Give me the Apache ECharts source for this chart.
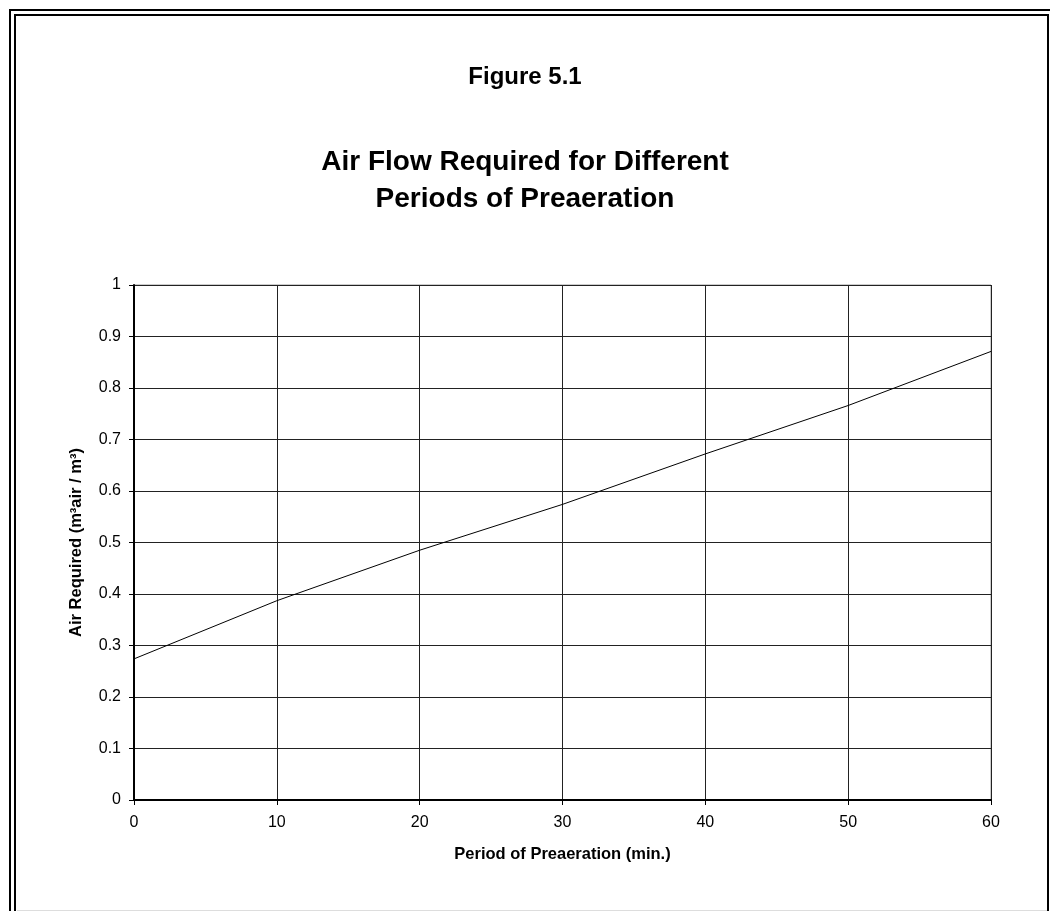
<!DOCTYPE html>
<html>
<head>
<meta charset="utf-8">
<script src="https://cdn.jsdelivr.net/npm/echarts@6/dist/echarts.min.js"></script>
<style>
  html, body { margin: 0; padding: 0; background: #fff; }
  #wrap { position: relative; width: 1050px; height: 911px; overflow: hidden; }
  #outer { position: absolute; left: 9px; top: 9px; width: 1100px; height: 1000px; border: 2px solid #000; }
  #inner { position: absolute; left: 14px; top: 14px; width: 1031px; height: 1000px; border: 2px solid #000; }
  #bottomline { position: absolute; left: 17px; top: 910px; width: 1030px; height: 1px; background: #ddd; }
  #chart { position: absolute; left: 0; top: 0; width: 1050px; height: 911px; }
</style>
</head>
<body>
<div id="wrap">
  <div id="outer"></div>
  <div id="inner"></div>
  <div id="bottomline"></div>
  <div id="chart"></div>
</div>
<script>
// period of preaeration (min.)
const periods = [0, 10, 20, 30, 40, 50, 60];
// air required (m3 air / m3)
const airRequired = [0.274, 0.387, 0.485, 0.574, 0.672, 0.766, 0.871];

const chart = echarts.init(document.getElementById('chart'));
const font = 'Liberation Sans, Arial, sans-serif';

chart.setOption({
  animation: false,
  title: [
    {
      text: 'Figure 5.1',
      left: 'center',
      top: 60,
      textStyle: { fontFamily: font, fontSize: 24, fontWeight: 'bold', color: '#000' }
    },
    {
      text: 'Air Flow Required for Different\nPeriods of Preaeration',
      left: 'center',
      top: 139,
      textStyle: { fontFamily: font, fontSize: 28, fontWeight: 'bold', color: '#000', lineHeight: 37 }
    }
  ],
  grid: {
    left: 134,
    right: 59,
    top: 285,
    bottom: 111,
    show: true,
    borderColor: '#999',
    borderWidth: 1
  },
  xAxis: {
    type: 'value',
    min: 0,
    max: 60,
    interval: 10,
    name: 'Period of Preaeration (min.)',
    nameLocation: 'middle',
    nameGap: 46,
    nameTextStyle: { fontFamily: font, fontSize: 16.5, fontWeight: 'bold', color: '#000' },
    axisLine: { lineStyle: { color: '#000', width: 2 } },
    axisTick: { show: true, length: 5, lineStyle: { color: '#000' } },
    axisLabel: { fontFamily: font, fontSize: 16, color: '#000', margin: 15 },
    splitLine: { show: true, lineStyle: { color: '#222', width: 1 } }
  },
  yAxis: {
    type: 'value',
    min: 0,
    max: 1,
    interval: 0.1,
    name: 'Air Required (m³air / m³)',
    nameLocation: 'middle',
    nameRotate: 90,
    nameGap: 49,
    nameTextStyle: { fontFamily: font, fontSize: 16.5, fontWeight: 'bold', color: '#000' },
    axisLine: { show: true, lineStyle: { color: '#000', width: 2 } },
    axisTick: { show: true, length: 5, lineStyle: { color: '#000' } },
    axisLabel: { fontFamily: font, fontSize: 16, color: '#000', margin: 13 },
    splitLine: { show: true, lineStyle: { color: '#222', width: 1 } }
  },
  series: [
    {
      type: 'line',
      data: periods.map((p, i) => [p, airRequired[i]]),
      showSymbol: false,
      lineStyle: { color: '#000', width: 1 }
    }
  ]
});
</script>
</body>
</html>
